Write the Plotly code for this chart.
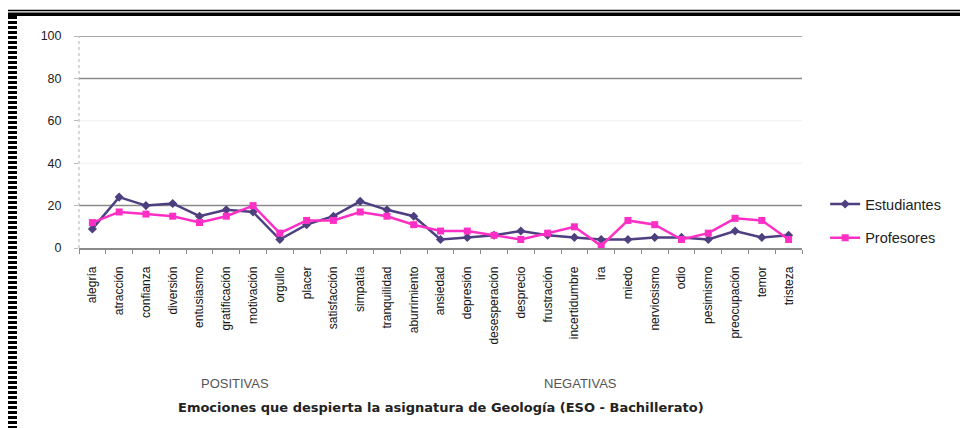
import plotly.graph_objects as go

categories = ["alegría", "atracción", "confianza", "diversión", "entusiasmo",
              "gratificación", "motivación", "orgullo", "placer", "satisfacción",
              "simpatía", "tranquilidad", "aburrimiento", "ansiedad", "depresión",
              "desesperación", "desprecio", "frustración", "incertidumbre", "ira",
              "miedo", "nerviosismo", "odio", "pesimismo", "preocupación", "temor",
              "tristeza"]
estudiantes = [9, 24, 20, 21, 15, 18, 17, 4, 11, 15, 22, 18, 15, 4, 5, 6, 8, 6, 5, 4,
               4, 5, 5, 4, 8, 5, 6]
profesores = [12, 17, 16, 15, 12, 15, 20, 7, 13, 13, 17, 15, 11, 8, 8, 6, 4, 7, 10, 1,
              13, 11, 4, 7, 14, 13, 4]
y_ticks = [0, 20, 40, 60, 80, 100]
grid_strong = [20, 80, 100]
grid_faint = [40, 60]
group_labels = ["POSITIVAS", "NEGATIVAS"]
title_text = "Emociones que despierta la asignatura de Geología (ESO - Bachillerato)"

PURPLE = "#4e3f80"
PINK = "#ff2fc6"

fig = go.Figure()
fig.add_trace(go.Scatter(x=categories, y=estudiantes, name="Estudiantes", mode="lines+markers",
                         line=dict(color=PURPLE, width=2.5),
                         marker=dict(symbol="diamond", size=7, color=PURPLE),
                         legendgroup="a"))
fig.add_trace(go.Scatter(x=categories, y=profesores, name="Profesores", mode="lines+markers",
                         line=dict(color=PINK, width=2.5),
                         marker=dict(symbol="square", size=7, color=PINK),
                         legendgroup="b"))

shapes = []
for g in grid_strong:
    shapes.append(dict(type="line", xref="paper", yref="y", x0=0, x1=1, y0=g, y1=g,
                       line=dict(color="#8a8a8a", width=1.5), layer="below"))
for g in grid_faint:
    shapes.append(dict(type="line", xref="paper", yref="y", x0=0, x1=1, y0=g, y1=g,
                       line=dict(color="#f0f0f0", width=1), layer="below"))
# y-axis dotted line
shapes.append(dict(type="line", xref="paper", yref="paper", x0=0, x1=0, y0=0, y1=1,
                   line=dict(color="#b0b0b0", width=1, dash="dot")))
# frame decorations (scan border)
shapes.append(dict(type="line", xref="paper", yref="paper", x0=-0.0996, x1=1.23,
                   y0=1.1203, y1=1.1203, line=dict(color="black", width=1.5)))
shapes.append(dict(type="rect", xref="paper", yref="paper", x0=-0.0996, x1=1.23,
                   y0=1.0943, y1=1.1108, line=dict(width=0), fillcolor="black"))
shapes.append(dict(type="line", xref="paper", yref="paper", x0=-0.0927, x1=-0.0927,
                   y0=1.0943, y1=-0.85, line=dict(color="black", width=10, dash="3px,2px")))
shapes.append(dict(type="line", xref="paper", yref="paper", x0=1.2227, x1=1.2227,
                   y0=1.0943, y1=-0.85, line=dict(color="#bdbdbd", width=1, dash="dot")))

annotations = [
    dict(text=group_labels[0], x=(235 - 79) / 723, y=(248 - 383) / 212, xref="paper",
         yref="paper", xanchor="center", yanchor="middle", showarrow=False,
         font=dict(family="Arial", size=13, color="#555555")),
    dict(text=group_labels[1], x=(580 - 79) / 723, y=(248 - 383) / 212, xref="paper",
         yref="paper", xanchor="center", yanchor="middle", showarrow=False,
         font=dict(family="Arial", size=13, color="#555555")),
    dict(text="<b>" + title_text + "</b>", x=(441 - 79) / 723, y=(248 - 407) / 212,
         xref="paper", yref="paper", xanchor="center", yanchor="middle", showarrow=False,
         font=dict(family="DejaVu Sans", size=13, color="#222222")),
]

fig.update_layout(
    width=960, height=420,
    margin=dict(l=71, r=166, t=28, b=180),
    paper_bgcolor="white", plot_bgcolor="white",
    font=dict(family="Arial", size=11, color="#222222"),
    showlegend=True,
    legend=dict(x=1.032, y=(248 - 221) / 212, xanchor="left", yanchor="middle",
                font=dict(family="Arial", size=14.5, color="#222222"),
                tracegroupgap=12, traceorder="grouped", bgcolor="rgba(0,0,0,0)"),
    shapes=shapes,
    annotations=annotations,
    xaxis=dict(type="category", tickangle=-90, showgrid=False, showline=True,
               linecolor="#8a8a8a", linewidth=1.5, ticks="outside", ticklen=4,
               tickcolor="#8a8a8a", tickson="boundaries", ticklabelstandoff=12,
               tickfont=dict(family="Arial", size=12, color="#111111"),
               range=[-0.5, len(categories) - 0.5]),
    yaxis=dict(range=[0, 100], tickvals=y_ticks, showgrid=False, zeroline=False,
               showline=False, ticks="outside", ticklen=4, tickcolor="#bbbbbb",
               ticklabelstandoff=10,
               tickfont=dict(family="Arial", size=12.5, color="#222222")),
)

fig.write_html("out.html")
